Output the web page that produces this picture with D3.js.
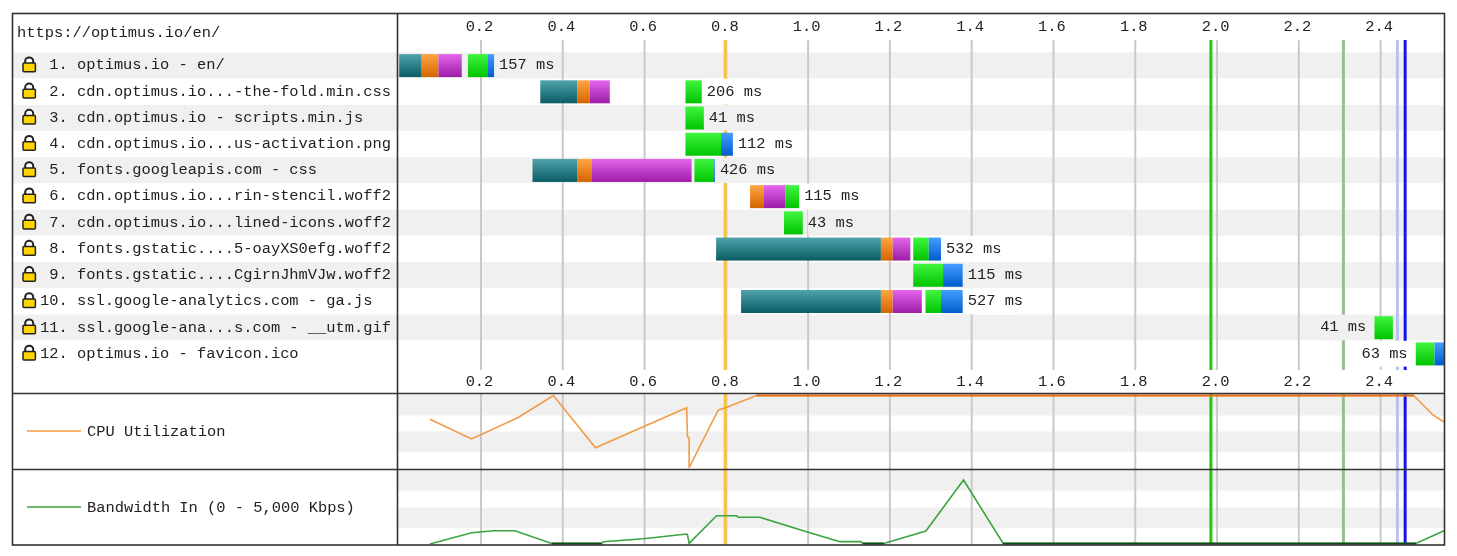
<!DOCTYPE html>
<html>
<head>
<meta charset="utf-8">
<style>
	html, body { margin: 0; padding: 0; background: white; }
	svg { display: block; filter: blur(0.45px); }
	text { font-family: "Liberation Mono", monospace; font-size: 15.4px; fill: #222; white-space: pre; }
	.grid { stroke: #c9c9c9; stroke-width: 2; }
	.frame { stroke: #333; stroke-width: 1.6; fill: none; }
</style>
<script src="https://d3js.org/d3.v7.min.js"></script>
</head>
<body>
<script>
var pageUrl = "https://optimus.io/en/";
var rowNames = [
	" 1. optimus.io - en/",
	" 2. cdn.optimus.io...-the-fold.min.css",
	" 3. cdn.optimus.io - scripts.min.js",
	" 4. cdn.optimus.io...us-activation.png",
	" 5. fonts.googleapis.com - css",
	" 6. cdn.optimus.io...rin-stencil.woff2",
	" 7. cdn.optimus.io...lined-icons.woff2",
	" 8. fonts.gstatic....5-oayXS0efg.woff2",
	" 9. fonts.gstatic....CgirnJhmVJw.woff2",
	"10. ssl.google-analytics.com - ga.js",
	"11. ssl.google-ana...s.com - __utm.gif",
	"12. optimus.io - favicon.ico"
];
var rowTimes = ["157 ms", "206 ms", "41 ms", "112 ms", "426 ms", "115 ms", "43 ms", "532 ms", "115 ms", "527 ms", "41 ms", "63 ms"];
// rows whose label sits left of the bar
var labelLeft = [10, 11];

// phases, seconds: [start, end] per row, null when the phase is absent
var dnsTimes = [[0, 0.055], [0.345, 0.435], null, null, [0.326, 0.435], null, null, [0.775, 1.178], null, [0.836, 1.178], null, null];
var connectTimes = [[0.055, 0.096], [0.435, 0.466], null, null, [0.435, 0.470], [0.858, 0.892], null, [1.178, 1.207], null, [1.178, 1.207], null, null];
var sslTimes = [[0.096, 0.153], [0.466, 0.515], null, null, [0.470, 0.715], [0.892, 0.945], null, [1.207, 1.250], null, [1.207, 1.278], null, null];
var ttfbTimes = [[0.168, 0.217], [0.700, 0.740], [0.700, 0.745], [0.700, 0.787], [0.722, 0.770], [0.945, 0.978], [0.941, 0.987], [1.257, 1.295], [1.257, 1.330], [1.287, 1.325], [2.385, 2.430], [2.486, 2.532]];
var downloadTimes = [[0.217, 0.232], null, null, [0.787, 0.816], [0.770, 0.772], null, null, [1.295, 1.325], [1.330, 1.378], [1.325, 1.378], null, [2.532, 2.555]];

var tickValues = [0.2, 0.4, 0.6, 0.8, 1.0, 1.2, 1.4, 1.6, 1.8, 2.0, 2.2, 2.4];
var eventTimes = [0.797, 1.985, 2.309, 2.441, 2.460];
var eventColors = ["#ffc32e", "#2cc40a", "#93c28a", "#b9c0f4", "#1414f0"];

var cpuTimes = [0.075, 0.177, 0.291, 0.377, 0.480, 0.597, 0.703, 0.705, 0.709, 0.709, 0.780, 0.801, 0.874, 2.481, 2.528, 2.555];
var cpuValues = [67.6, 41, 70, 100, 29, 57.5, 83.4, 44, 42, 2, 80, 84, 100, 100, 73.5, 64];
var bwTimes = [0.075, 0.177, 0.230, 0.283, 0.373, 0.495, 0.499, 0.597, 0.703, 0.705, 0.709, 0.776, 0.825, 0.829, 0.882, 1.004, 1.078, 1.129, 1.134, 1.185, 1.288, 1.380, 1.477, 2.486, 2.555];
var bwValues = [30, 790, 925, 925, 65, 65, 190, 390, 705, 640, 80, 1930, 1930, 1825, 1825, 790, 190, 190, 65, 65, 905, 4330, 65, 65, 925];

var width = 1457, height = 556;
var left = 12.5, right = 1444.5, top_ = 13.5, bottom = 545;
var divider = 397.5, cpuTop = 393.5, bwTop = 469.5;

var x = d3.scaleLinear().domain([0, 2.555]).range([399.2, 1444]);
var rowY = d3.scaleBand().domain(d3.range(rowNames.length)).range([52.5, 367]);
var cpuY = d3.scaleLinear().domain([0, 100]).range([469, 395.5]);
var bwY = d3.scaleLinear().domain([0, 5000]).range([544.5, 470]);

var svg = d3.select("body").append("svg")
	.attr("width", width)
	.attr("height", height);

var phases = [
	{ times: dnsTimes, id: "dns", top: "#4fa3aa", bottom: "#0b5c64" },
	{ times: connectTimes, id: "connect", top: "#ffa544", bottom: "#d46400" },
	{ times: sslTimes, id: "ssl", top: "#e466ec", bottom: "#9c1ca6" },
	{ times: ttfbTimes, id: "ttfb", top: "#40f540", bottom: "#00c400" },
	{ times: downloadTimes, id: "download", top: "#459dff", bottom: "#005ccc" }
];

var defs = svg.append("defs");
phases.forEach(function(p){
	var grad = defs.append("linearGradient")
		.attr("id", "grad-" + p.id)
		.attr("x1", 0).attr("x2", 0).attr("y1", 0).attr("y2", 1);
	grad.append("stop").attr("offset", "0%").attr("stop-color", p.top);
	grad.append("stop").attr("offset", "100%").attr("stop-color", p.bottom);
});
defs.append("clipPath").attr("id", "plot-clip")
	.append("rect")
	.attr("x", divider).attr("y", top_)
	.attr("width", right - divider).attr("height", bottom - top_);

// row stripes
svg.append("g").selectAll("rect")
	.data(rowNames.map(function(d, i){ return i; }).filter(function(i){ return i % 2 == 0; }))
	.enter().append("rect")
	.attr("x", left).attr("width", right - left)
	.attr("y", function(i){ return rowY(i); })
	.attr("height", rowY.bandwidth() - 0.4)
	.attr("fill", "#f0f0f0");

// stripes of the two lower panels
var stripeTops = [395, 431.5, 470, 507.5];
svg.append("g").selectAll("rect")
	.data(stripeTops)
	.enter().append("rect")
	.attr("x", divider).attr("width", right - divider)
	.attr("y", function(d){ return d; })
	.attr("height", 20.5)
	.attr("fill", "#f0f0f0");

// grid and page events, in the waterfall and in the lower panels
var spans = [[40, 370], [cpuTop, bottom]];
spans.forEach(function(s){
	svg.append("g").selectAll("line")
		.data(tickValues)
		.enter().append("line")
		.attr("class", "grid")
		.attr("x1", function(d){ return x(d); })
		.attr("x2", function(d){ return x(d); })
		.attr("y1", s[0]).attr("y2", s[1]);
	svg.append("g").selectAll("line")
		.data(eventTimes)
		.enter().append("line")
		.attr("x1", function(d){ return x(d); })
		.attr("x2", function(d){ return x(d); })
		.attr("y1", s[0]).attr("y2", s[1])
		.attr("stroke", function(d, i){ return eventColors[i]; })
		.attr("stroke-width", 3);
});

// request bars
var barHeight = 23;
var bars = svg.append("g").attr("clip-path", "url(#plot-clip)");
phases.forEach(function(p){
	bars.append("g").selectAll("rect")
		.data(p.times.map(function(t, i){ return { t: t, row: i }; }).filter(function(d){ return d.t; }))
		.enter().append("rect")
		.attr("x", function(d){ return x(d.t[0]); })
		.attr("width", function(d){ return x(d.t[1]) - x(d.t[0]); })
		.attr("y", function(d){ return rowY(d.row) + (rowY.bandwidth() - barHeight) / 2; })
		.attr("height", barHeight)
		.attr("fill", "url(#grad-" + p.id + ")");
});

// duration labels, with a patch of row colour behind them
var charWidth = 9.27;
function rowEnd(i){
	return d3.max(phases, function(p){ return p.times[i] ? x(p.times[i][1]) : null; });
}
function rowStart(i){
	return d3.min(phases, function(p){ return p.times[i] ? x(p.times[i][0]) : null; });
}
function labelX(i){
	var isLeft = labelLeft.indexOf(i) >= 0;
	return isLeft ? rowStart(i) - 8 - rowTimes[i].length * charWidth : rowEnd(i) + 5;
}
var labels = svg.append("g").selectAll("g")
	.data(rowTimes)
	.enter().append("g");
labels.append("rect")
	.attr("x", function(d, i){ return labelX(i); })
	.attr("y", function(d, i){ return rowY(i); })
	.attr("width", function(d){ return d.length * charWidth; })
	.attr("height", rowY.bandwidth() - 0.4)
	.attr("fill", function(d, i){ return i % 2 == 0 ? "#f0f0f0" : "#fff"; });
labels.append("text")
	.attr("x", function(d, i){ return labelX(i); })
	.attr("y", function(d, i){ return rowY(i) + rowY.bandwidth() / 2 + 3.8; })
	.text(function(d){ return d; });

// row names and padlocks
var names = svg.append("g").selectAll("g")
	.data(rowNames)
	.enter().append("g")
	.attr("transform", function(d, i){ return "translate(0," + (rowY(i) + rowY.bandwidth() / 2) + ")"; });
names.append("path")
	.attr("d", "M25.2,-2 V-4.6 A4,3.6 0 0 1 33.2,-4.6 V-2")
	.attr("fill", "#fff")
	.attr("stroke", "#222")
	.attr("stroke-width", 2);
names.append("rect")
	.attr("x", 23).attr("y", -2.5)
	.attr("width", 12.4).attr("height", 8.6)
	.attr("rx", 1)
	.attr("fill", "#ffd400")
	.attr("stroke", "#222")
	.attr("stroke-width", 1.5);
names.append("text")
	.attr("x", 40).attr("y", 3.8)
	.text(function(d){ return d; });

svg.append("text").attr("x", 17).attr("y", 37).text(pageUrl);

// time axes above and below the waterfall
[31, 386].forEach(function(y){
	var axis = svg.append("g")
		.attr("transform", "translate(0," + y + ")")
		.call(d3.axisTop(x).tickValues(tickValues).tickFormat(d3.format(".1f")).tickSize(0).tickPadding(0));
	axis.select(".domain").remove();
	axis.selectAll("text")
		.attr("dy", 0)
		.attr("dx", -2)
		.style("font-family", null)
		.style("font-size", "15.4px");
	axis.attr("font-family", null).attr("font-size", null);
});

// CPU and bandwidth traces
var cpuColor = "#f39a45", bwColor = "#3ba340";
var plotLines = svg.append("g").attr("clip-path", "url(#plot-clip)");
var cpuLine = d3.line()
	.x(function(d, i){ return x(cpuTimes[i]); })
	.y(function(d){ return cpuY(d); });
var bwLine = d3.line()
	.x(function(d, i){ return x(bwTimes[i]); })
	.y(function(d){ return bwY(d); });
plotLines.append("path")
	.attr("d", cpuLine(cpuValues))
	.attr("fill", "none")
	.attr("stroke", cpuColor)
	.attr("stroke-width", 1.6);
plotLines.append("path")
	.attr("d", bwLine(bwValues))
	.attr("fill", "none")
	.attr("stroke", bwColor)
	.attr("stroke-width", 1.6);

// runs that lie flat at full scale or at zero read darker against the frame
function flatRun(values){
	return function(d, i){ return values[i - 1] === d || values[i + 1] === d; };
}
plotLines.append("path")
	.attr("d", cpuLine.defined(flatRun(cpuValues))(cpuValues))
	.attr("fill", "none")
	.attr("stroke", "#e4701a")
	.attr("stroke-width", 2.2);
plotLines.append("path")
	.attr("d", bwLine.defined(function(d, i){ return d == 65 && flatRun(bwValues)(d, i); })(bwValues))
	.attr("fill", "none")
	.attr("stroke", "#0b4d12")
	.attr("stroke-width", 2);

// panel legends
var legends = [
	{ name: "CPU Utilization", y: 431, color: cpuColor },
	{ name: "Bandwidth In (0 - 5,000 Kbps)", y: 507, color: bwColor }
];
legends.forEach(function(l){
	svg.append("line")
		.attr("x1", 27).attr("x2", 81)
		.attr("y1", l.y).attr("y2", l.y)
		.attr("stroke", l.color)
		.attr("stroke-width", 1.6);
	svg.append("text").attr("x", 87).attr("y", l.y + 5).text(l.name);
});

// frame goes on last
svg.append("rect")
	.attr("class", "frame")
	.attr("x", left).attr("y", top_)
	.attr("width", right - left).attr("height", bottom - top_);
[[divider, top_, divider, bottom], [left, cpuTop, right, cpuTop], [left, bwTop, right, bwTop]].forEach(function(s){
	svg.append("line")
		.attr("class", "frame")
		.attr("x1", s[0]).attr("y1", s[1])
		.attr("x2", s[2]).attr("y2", s[3]);
});
</script>
</body>
</html>
